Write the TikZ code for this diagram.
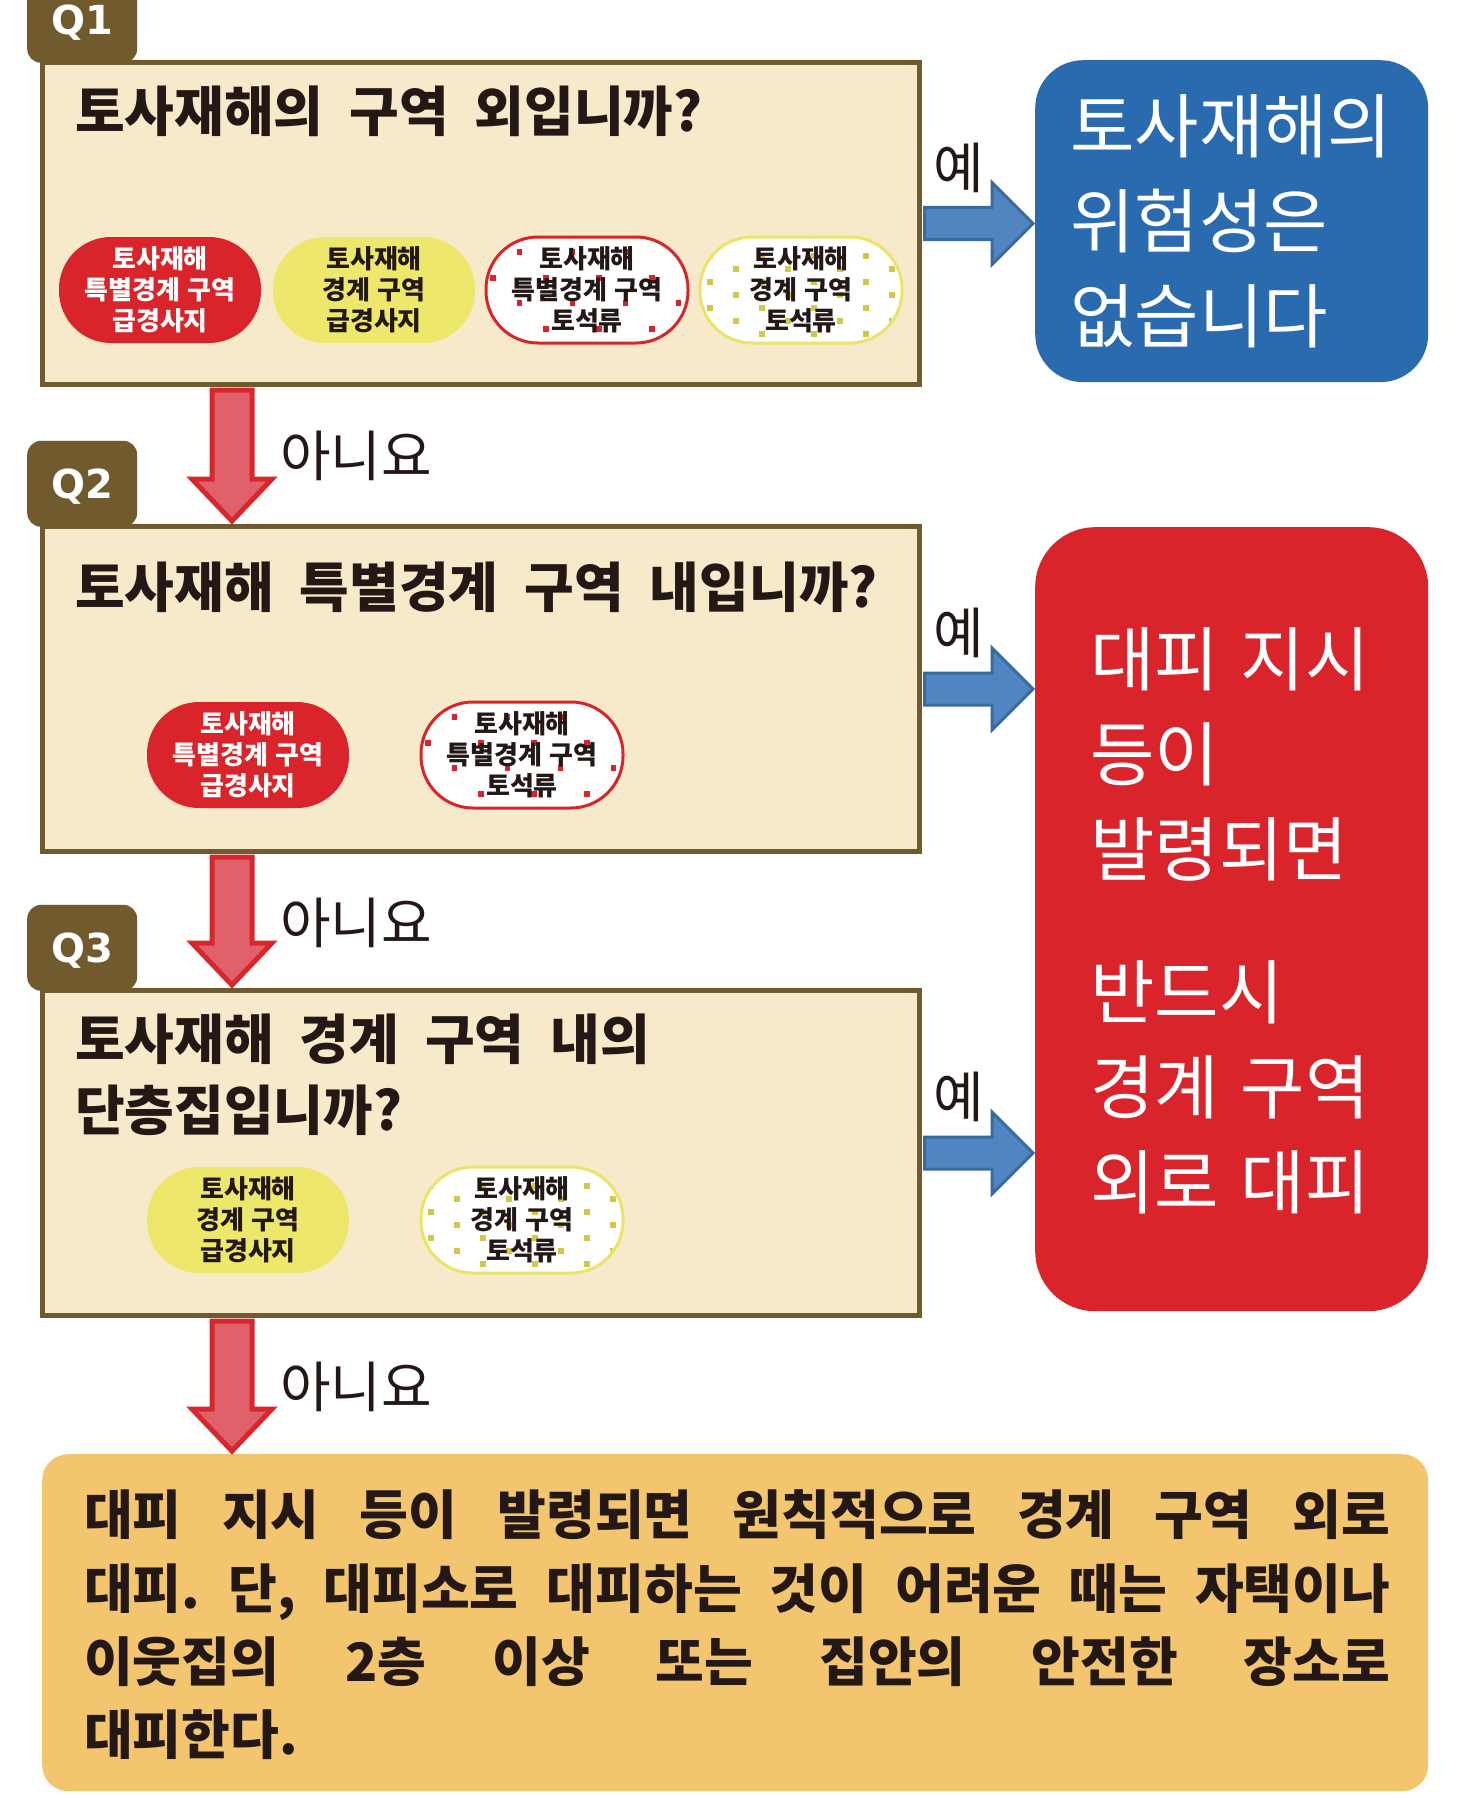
\documentclass[tikz,border=0pt]{standalone}
\usepackage{fontspec}
\setmainfont{Noto Sans CJK KR}
\newfontfamily\kr{Noto Sans CJK KR}
\newfontfamily\qfont{DejaVu Sans}
\usetikzlibrary{calc}
\definecolor{qbrown}{HTML}{705A2E}
\definecolor{qcream}{HTML}{F7EACA}
\definecolor{yesblue}{HTML}{2A6BB0}
\definecolor{arrblue}{HTML}{4F86C2}
\definecolor{arrblueline}{HTML}{3A6A9E}
\definecolor{bigred}{HTML}{D8242A}
\definecolor{arrpink}{HTML}{E0606C}
\definecolor{arrred}{HTML}{D7262C}
\definecolor{ovyellow}{HTML}{EDE86C}
\definecolor{ovyline}{HTML}{E9E46A}
\definecolor{ovydot}{HTML}{D2C848}
\definecolor{ovrdot}{HTML}{D8242A}
\definecolor{bottomfill}{HTML}{F2C56E}
\definecolor{inkdark}{HTML}{231815}
\newcommand\titlefont{\kr\bfseries\fontsize{54}{71}\selectfont\frenchspacing\spaceskip=26pt\relax}
\newcommand\ovalfont{\kr\bfseries\fontsize{26}{31}\selectfont\spaceskip=8pt\relax}
\newcommand\bigfont{\kr\fontsize{70}{95}\selectfont\spaceskip=22pt\relax}
\newcommand\finalfont{\kr\bfseries\fontsize{53}{73.3}\selectfont\frenchspacing\spaceskip=8pt plus 60pt\relax}
\newcommand\answerfont{\kr\fontsize{55}{60}\selectfont}
\tikzset{
 qbox/.style={draw=qbrown, line width=5pt, fill=qcream, minimum width=877pt, minimum height=324pt, anchor=north west, inner sep=0pt},
 qtab/.style={fill=qbrown, rounded corners=14pt, minimum width=110pt, minimum height=86pt, anchor=south west, inner sep=0pt},
 qlabel/.style={text=white, font=\qfont\bfseries\fontsize{40}{40}\selectfont, inner sep=0pt},
 qtitle/.style={text=inkdark, font=\titlefont, align=left, anchor=west, inner sep=0pt},
 ovalbase/.style={minimum width=202pt, minimum height=106pt, rounded corners=52pt, inner sep=0pt},
 ovaltext/.style={align=center, font=\ovalfont, inner sep=0pt, text=inkdark},
 bigtext/.style={text=white, font=\bigfont, align=left, anchor=west, inner sep=0pt},
 finaltext/.style={text=inkdark, font=\finalfont, align=left, anchor=west, inner sep=0pt},
 anslabel/.style={text=inkdark, font=\answerfont, inner sep=0pt},
 yesarr/.style={fill=arrblue, draw=arrblueline, line width=3pt, line join=miter},
 noarr/.style={fill=arrpink, draw=arrred, line width=5pt, line join=miter},
}
% dot patterns
\newcommand\dotsR[2]{%
 \foreach \k in {0,...,7}{%
  \pgfmathsetmacro\dx{-94+26.5*\k}%
  \foreach \dy in {-12,39}{%
   \pgfmathsetmacro\yy{\dy-26*mod(\k,2)}%
   \fill[#2] ($(#1)+(\dx,\yy)$) +(-2.6,-2.6) rectangle +(2.6,2.6);}}}
\newcommand\dotsY[2]{%
 \foreach \k in {0,...,7}{%
  \pgfmathsetmacro\dx{-91+26*\k}%
  \foreach \dy in {-34,-8,18,44}{%
   \pgfmathsetmacro\yy{\dy+13*mod(\k,2)}%
   \fill[#2] ($(#1)+(\dx,\yy)$) +(-2.6,-2.6) rectangle +(2.6,2.6);}}}
% name, position, border colour, dot macro, dot colour, text
\newcommand\dottedoval[6]{%
 \node[ovalbase, fill=white, draw=#3, line width=3pt] (#1) at (#2) {};
 \begin{scope}
  \clip[rounded corners=48pt] ($(#1.south west)+(4,-4)$) rectangle ($(#1.north east)+(-4,4)$);
  #4{#1}{#5}
 \end{scope}
 \node[ovaltext] (#1t) at (#1) {#6};}
% yes arrow: from box #1 to box #2
\newcommand\yesarrow[3]{%
 \coordinate (#3s) at ($(#1.east)+(2.5,0)$);
 \coordinate (#3t) at ($(#2.west |- #1.east)+(-2,0)$);
 \draw[yesarr] ($(#3s)+(0,-16)$) -- ($(#3t)+(-41,-16)$) -- ($(#3t)+(-41,-41)$) -- (#3t)
   -- ($(#3t)+(-41,41)$) -- ($(#3t)+(-41,16)$) -- ($(#3s)+(0,16)$) -- cycle;
 \node[anslabel] (#3lbl) at ($(#3s)!0.5!(#3t)+(-20,-56)$) {예};}
% no arrow: from box #1 down to box #2
\newcommand\noarrow[3]{%
 \coordinate (#3s) at ($(#1.south west)+(192,3)$);
 \coordinate (#3t) at ($(#3s |- #2.north)+(0,-3)$);
 \draw[noarr] ($(#3s)+(-20,0)$) -- ($(#3t)+(-20,-42)$) -- ($(#3t)+(-40,-42)$) -- (#3t)
   -- ($(#3t)+(40,-42)$) -- ($(#3t)+(20,-42)$) -- ($(#3s)+(20,0)$) -- cycle;
 \node[anslabel, anchor=west] (#3lbl) at ($(#3s)+(48,66)$) {아니요};}

\begin{document}
\begin{tikzpicture}[x=1pt,y=-1pt]
\useasboundingbox (0,0) rectangle (1462,1798);
\fill[white] (0,0) rectangle (1462,1798);

% question boxes
\node[qbox, minimum height=322pt] (q1) at (40,60) {};
\node[qbox, minimum height=325pt] (q2) at (40,524) {};
\node[qbox, minimum height=325pt] (q3) at (40,988) {};

% tabs
\node[qtab] (q1tab) at ($(q1.north west)+(-13,3)$) {};
\node[qlabel] (q1lbl) at ($(q1tab.center)+(0,3)$) {Q1};
\node[qtab] (q2tab) at ($(q2.north west)+(-13,3)$) {};
\node[qlabel] (q2lbl) at ($(q2tab.center)+(0,3)$) {Q2};
\node[qtab] (q3tab) at ($(q3.north west)+(-13,3)$) {};
\node[qlabel] (q3lbl) at ($(q3tab.center)+(0,3)$) {Q3};

% titles
\node[qtitle] (q1title) at (75,111) {토사재해의 구역 외입니까?};
\node[qtitle] (q2title) at (75,587) {토사재해 특별경계 구역 내입니까?};
\node[qtitle] (q3title) at (75,1075) {토사재해 경계 구역 내의\\단층집입니까?};

% Q1 ovals
\node[ovalbase, fill=bigred, ovaltext, text=white] (o11) at (160,290) {토사재해\\특별경계 구역\\급경사지};
\node[ovalbase, fill=ovyellow, ovaltext] (o12) at (374,290) {토사재해\\경계 구역\\급경사지};
\dottedoval{o13}{587,290}{bigred}{\dotsR}{ovrdot}{토사재해\\특별경계 구역\\토석류}
\dottedoval{o14}{801,290}{ovyline}{\dotsY}{ovydot}{토사재해\\경계 구역\\토석류}

% Q2 ovals
\node[ovalbase, fill=bigred, ovaltext, text=white] (o21) at (248,755) {토사재해\\특별경계 구역\\급경사지};
\dottedoval{o22}{522,755}{bigred}{\dotsR}{ovrdot}{토사재해\\특별경계 구역\\토석류}

% Q3 ovals
\node[ovalbase, fill=ovyellow, ovaltext] (o31) at (248,1220) {토사재해\\경계 구역\\급경사지};
\dottedoval{o32}{522,1220}{ovyline}{\dotsY}{ovydot}{토사재해\\경계 구역\\토석류}

% answer boxes
\node[fill=yesblue, rounded corners=48pt, minimum width=393pt, minimum height=322pt, anchor=north west, inner sep=0pt] (safe) at (1035,60) {};
\node[bigtext] (safetxt) at (1070,221) {토사재해의\\위험성은\\없습니다};
\node[fill=bigred, rounded corners=60pt, minimum width=393pt, minimum height=784pt, anchor=north west, inner sep=0pt] (evac) at (1035,527) {};
\node[bigtext] (evactxt1) at (1090,754) {대피 지시\\등이\\발령되면};
\node[bigtext] (evactxt2) at (1090,1087) {반드시\\경계 구역\\외로 대피};

% final box
\node[fill=bottomfill, rounded corners=26pt, minimum width=1386pt, minimum height=337pt, anchor=north west, inner sep=0pt] (final) at (42,1454) {};
\node[finaltext] (finaltxt) at (84,1625) {\makebox[1306pt][s]{대피 지시 등이 발령되면 원칙적으로 경계 구역 외로}\\
\makebox[1306pt][s]{대피. 단, 대피소로 대피하는 것이 어려운 때는 자택이나}\\
\makebox[1306pt][s]{이웃집의 2층 이상 또는 집안의 안전한 장소로}\\
대피한다.};

% connectors
\yesarrow{q1}{safe}{ya1}
\yesarrow{q2}{evac}{ya2}
\yesarrow{q3}{evac}{ya3}
\noarrow{q1}{q2}{na1}
\noarrow{q2}{q3}{na2}
\noarrow{q3}{final}{na3}
\end{tikzpicture}
\end{document}
